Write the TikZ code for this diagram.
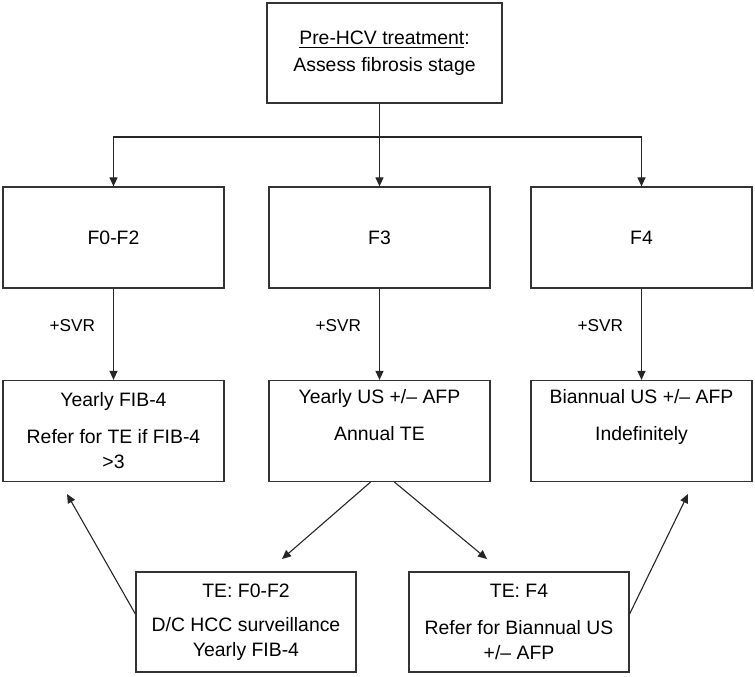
\documentclass[tikz,border=0pt]{standalone}
\usepackage{fontspec}
\setmainfont{Liberation Sans}
\usetikzlibrary{arrows.meta}
\tikzset{
        every node/.style={font=\fontsize{9.7}{12.5}\selectfont},
        stage/.style={draw=black!80, line width=0.6pt, align=center, inner sep=0pt, minimum width=110.5pt, minimum height=50.5pt},
        plan/.style={draw=black!80, line width=0.6pt, align=center, inner sep=0pt, minimum width=110pt, minimum height=50pt},
        link/.style={draw=black!85, line width=0.55pt, -{Triangle[length=4.5pt, width=4pt]}},
        svr/.style={left=9pt, inner sep=0pt, font=\fontsize{8.6}{10}\selectfont}
          }

\begin{document}
\begin{tikzpicture}[x=0.5pt, y=-0.5pt]
        \useasboundingbox (0,0) rectangle (755,676);
        \node[stage, minimum width=117.5pt, minimum height=50pt] (pre) at (384.5,53)
          {\underline{Pre-HCV treatment}:\\[1pt]Assess fibrosis stage};
        \node[stage] (f02) at (113.5,237.5) {F0-F2};
        \node[stage] (f3) at (379.5,237.5) {F3};
        \node[stage] (f4) at (641.5,237.5) {F4};
        \node[stage] (yfib) at (113.5,431) {Yearly FIB-4\\[6pt]Refer for TE if FIB-4\\>3};
        \node[stage] (yus) at (379.5,431) {Yearly US +/-- AFP\\[6pt]Annual TE\\\strut};
        \node[stage] (bius) at (641.5,431) {Biannual US +/-- AFP\\[6pt]Indefinitely\\\strut};
        \node[plan] (tef02) at (246,622) {TE: F0-F2\\[4.5pt]D/C HCC surveillance\\Yearly FIB-4};
        \node[plan] (tef4) at (519,622) {TE: F4\\[6pt]Refer for Biannual US\\+/-- AFP};
        \coordinate (split) at (379.5,137);
        \coordinate (lowf02) at (282,559);
        \coordinate (lowf4) at (487,559);
        \coordinate (backf02) at (67,494);
        \coordinate (backf4) at (688,494);
        \draw[link] (f3.north |- pre.south) -- (f3.north);
        \draw[link] (split) -| (f02.north);
        \draw[link] (split) -| (f4.north);
        \draw[link] (f02) -- node[svr, pos=0.4]{+SVR} (yfib);
        \draw[link] (f3) -- node[svr, pos=0.4]{+SVR} (yus);
        \draw[link] (f4) -- node[svr, pos=0.4]{+SVR} (bius);
        \draw[link] ([xshift=-4.5pt]yus.south) -- (lowf02);
        \draw[link] ([xshift=7.5pt]yus.south) -- (lowf4);
        \draw[link] ([yshift=4pt]tef02.west) -- (backf02);
        \draw[link] ([yshift=4pt]tef4.east) -- (backf4);
      \end{tikzpicture}
\end{document}
